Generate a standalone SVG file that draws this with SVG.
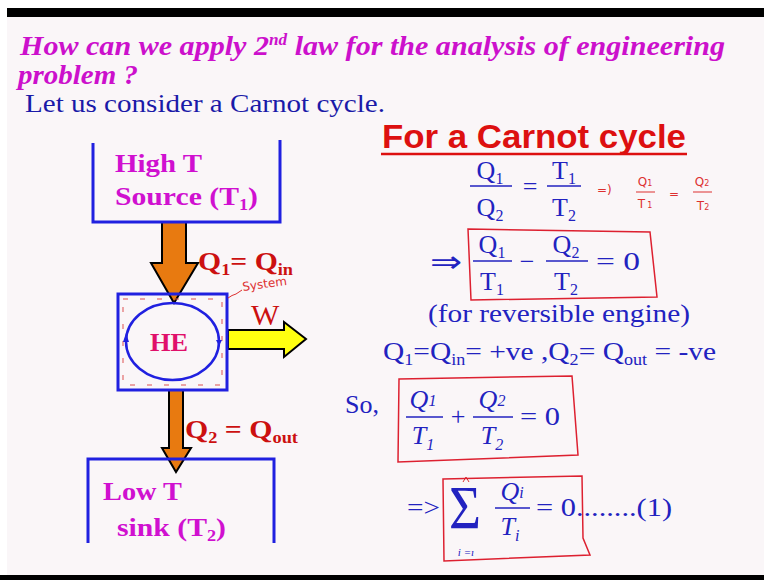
<svg xmlns="http://www.w3.org/2000/svg" width="764" height="580" viewBox="0 0 764 580">
<defs>
<style>
.title{font-family:"Liberation Serif",serif;font-weight:bold;font-style:italic;font-size:28px;fill:#cc10cc}
.intro{font-family:"Liberation Serif",serif;font-size:26px;fill:#1a1aa8}
.head{font-family:"Liberation Sans",Arial,sans-serif;font-weight:bold;font-size:33px;fill:#dd1010}
.node{font-family:"Liberation Serif",serif;font-weight:bold;font-size:26px;fill:#d010d0}
.lbl{font-family:"Liberation Serif",serif;font-weight:bold;font-size:26px;fill:#cc1010}
.he{font-family:"Liberation Serif",serif;font-weight:bold;font-size:26px;fill:#e0106a}
.w{font-family:"Liberation Serif",serif;font-size:30px;fill:#cc1010}
.eq{font-family:"Liberation Serif",serif;font-size:26px;fill:#2222c0}
.eqi{font-family:"Liberation Serif",serif;font-style:italic;font-size:26px;fill:#2222c0}
.sm{font-size:16px}
.hand{font-family:"DejaVu Sans",sans-serif;font-size:12px;fill:#dd3030}
.box{fill:none;stroke:#2020e0;stroke-width:3}
.fl{stroke:#2222c0;stroke-width:1.6}
.rb{fill:none;stroke:#dd2030;stroke-width:1.5}
.hl{stroke:#dd3030;stroke-width:1}
</style>
</defs>
<rect x="0" y="0" width="764" height="580" fill="#ffffff"/>
<rect x="7" y="8" width="757" height="567" fill="#faf6f8"/>
<rect x="7" y="8" width="757" height="9" fill="#000000"/>
<rect x="0" y="575" width="764" height="5" fill="#000000"/>

<text class="title" x="20" y="55" textLength="705" lengthAdjust="spacingAndGlyphs">How can we apply 2<tspan style="font-size:16px" dy="-10">nd</tspan><tspan dy="10">  law for the analysis of engineering</tspan></text>
<text class="title" x="18" y="84" textLength="120" lengthAdjust="spacingAndGlyphs">problem ?</text>
<text class="intro" x="25" y="112" textLength="360" lengthAdjust="spacingAndGlyphs">Let us consider a Carnot cycle.</text>

<text class="head" x="382" y="148" textLength="304" lengthAdjust="spacingAndGlyphs">For a Carnot cycle</text>
<line x1="381" y1="154" x2="687" y2="154" stroke="#dd1010" stroke-width="2.5"/>

<g id="connectors">
  <polygon id="q1-arrow" points="162,222 186,222 186,263 198,263 174,303 151,263 162,263" fill="#e87a10" stroke="#000" stroke-width="2"/>
  <polygon id="q2-arrow" points="169,390 183,390 183,448 191,448 176,472 162,448 169,448" fill="#e87a10" stroke="#000" stroke-width="2"/>
  <polygon id="w-arrow" points="228,330 284,330 284,322 306,339 284,357 284,349 228,349" fill="#ffff10" stroke="#000" stroke-width="2"/>
</g>

<g id="source">
  <polyline class="box" points="93,143 93,222 280,222 280,140"/>
  <text class="node" x="115" y="172" textLength="87" lengthAdjust="spacingAndGlyphs">High T</text>
  <text class="node" x="115" y="205" textLength="143" lengthAdjust="spacingAndGlyphs">Source (T<tspan class="sm" dy="5">1</tspan><tspan dy="-5">)</tspan></text>
</g>

<g id="engine">
  <rect class="box" x="118" y="294" width="109" height="96"/>
  <rect x="123" y="299" width="99" height="86" fill="none" stroke="#dd5050" stroke-width="1" stroke-dasharray="5,12"/>
  <ellipse cx="172.5" cy="341.5" rx="46.5" ry="38.5" fill="none" stroke="#2020e0" stroke-width="2.5"/>
  <polygon points="126,343 123,334 129,334" fill="#2020e0" transform="rotate(180 126 338)"/>
  <polygon points="219,340 216,346 222,346" fill="#2020e0" transform="rotate(180 219 343)"/>
  <text class="he" x="169" y="351" text-anchor="middle" textLength="38" lengthAdjust="spacingAndGlyphs">HE</text>
</g>

<g id="sink">
  <polyline class="box" points="88,543 88,459 274,459 274,543"/>
  <text class="node" x="103" y="500" textLength="79" lengthAdjust="spacingAndGlyphs">Low T</text>
  <text class="node" x="117" y="536" textLength="109" lengthAdjust="spacingAndGlyphs">sink (T<tspan class="sm" dy="5">2</tspan><tspan dy="-5">)</tspan></text>
</g>

<text class="lbl" x="198" y="270" textLength="95" lengthAdjust="spacingAndGlyphs">Q<tspan class="sm" dy="5">1</tspan><tspan dy="-5">= Q</tspan><tspan class="sm" dy="5">in</tspan></text>
<text class="lbl" x="185" y="438" textLength="113" lengthAdjust="spacingAndGlyphs">Q<tspan class="sm" dy="5">2</tspan><tspan dy="-5"> = Q</tspan><tspan class="sm" dy="5">out</tspan></text>
<text class="w" x="251" y="325">W</text>
<path d="M228,298 q4,-3 8,-4 q3,-2 6,-4" class="hl" fill="none"/>
<text class="hand" x="243" y="291" transform="rotate(-8 243 291)">System</text>

<!-- equation 1 -->
<text class="eq" x="490" y="179" text-anchor="middle">Q<tspan class="sm" dy="5">1</tspan></text>
<line class="fl" x1="470" y1="186" x2="512" y2="186"/>
<text class="eq" x="490" y="216" text-anchor="middle">Q<tspan class="sm" dy="5">2</tspan></text>
<text class="eq" x="530" y="195" text-anchor="middle">=</text>
<text class="eq" x="564" y="179" text-anchor="middle">T<tspan class="sm" dy="5">1</tspan></text>
<line class="fl" x1="547" y1="186" x2="581" y2="186"/>
<text class="eq" x="564" y="216" text-anchor="middle">T<tspan class="sm" dy="5">2</tspan></text>

<text class="hand" x="597" y="194">=)</text>
<text class="hand" x="645" y="186" text-anchor="middle">Q<tspan style="font-size:8px">1</tspan></text>
<line class="hl" x1="636" y1="192" x2="655" y2="192"/>
<text class="hand" x="645" y="208" text-anchor="middle">T<tspan style="font-size:8px" dx="2">1</tspan></text>
<text class="hand" x="669" y="198">=</text>
<text class="hand" x="702" y="186" text-anchor="middle">Q<tspan style="font-size:8px">2</tspan></text>
<line class="hl" x1="693" y1="192" x2="712" y2="192"/>
<text class="hand" x="703" y="210" text-anchor="middle">T<tspan style="font-size:8px">2</tspan></text>

<!-- equation 2 -->
<text class="eq" x="430" y="272" style="font-size:30px" textLength="32" lengthAdjust="spacingAndGlyphs">⇒</text>
<text class="eq" x="492" y="253" text-anchor="middle">Q<tspan class="sm" dy="5">1</tspan></text>
<line class="fl" x1="473" y1="261" x2="512" y2="261"/>
<text class="eq" x="492" y="290" text-anchor="middle">T<tspan class="sm" dy="5">1</tspan></text>
<text class="eq" x="527" y="270" text-anchor="middle">−</text>
<text class="eq" x="566" y="253" text-anchor="middle">Q<tspan class="sm" dy="5">2</tspan></text>
<line class="fl" x1="546" y1="261" x2="588" y2="261"/>
<text class="eq" x="566" y="290" text-anchor="middle">T<tspan class="sm" dy="5">2</tspan></text>
<text class="eq" x="596" y="270" textLength="44" lengthAdjust="spacingAndGlyphs">= 0</text>
<polygon class="rb" points="468,229 650,232 657,297 471,300"/>

<text class="eq" x="428" y="322" textLength="262" lengthAdjust="spacingAndGlyphs">(for reversible engine)</text>
<text class="eq" x="383" y="360" textLength="333" lengthAdjust="spacingAndGlyphs">Q<tspan class="sm" dy="5">1</tspan><tspan dy="-5">=Q</tspan><tspan class="sm" dy="5">in</tspan><tspan dy="-5">= +ve ,Q</tspan><tspan class="sm" dy="5">2</tspan><tspan dy="-5">= Q</tspan><tspan class="sm" dy="5">out</tspan><tspan dy="-5"> = -ve</tspan></text>

<!-- equation 3 -->
<text class="eq" x="345" y="413">So,</text>
<text class="eqi" x="423" y="408" text-anchor="middle">Q<tspan class="sm" dy="-2">1</tspan></text>
<line class="fl" x1="406" y1="417" x2="443" y2="417"/>
<text class="eqi" x="423" y="444" text-anchor="middle">T<tspan class="sm" dy="6">1</tspan></text>
<text class="eq" x="458" y="425" text-anchor="middle">+</text>
<text class="eqi" x="492" y="408" text-anchor="middle">Q<tspan class="sm" dy="-2">2</tspan></text>
<line class="fl" x1="473" y1="417" x2="513" y2="417"/>
<text class="eqi" x="492" y="444" text-anchor="middle">T<tspan class="sm" dy="6">2</tspan></text>
<text class="eq" x="520" y="425" textLength="40" lengthAdjust="spacingAndGlyphs">= 0</text>
<polygon class="rb" points="399,379 572,376 578,455 398,462"/>

<!-- equation 4 -->
<text class="eq" x="407" y="516" textLength="33" lengthAdjust="spacingAndGlyphs">=&gt;</text>
<text class="eq" x="449" y="528" style="font-size:62px" textLength="32" lengthAdjust="spacingAndGlyphs">Σ</text>
<text class="eqi" x="466" y="556" style="font-size:11px" text-anchor="middle">i =ı</text>
<polyline points="463,482 466,477 469,482" fill="none" stroke="#dd3030" stroke-width="1"/>
<text class="eqi" x="512" y="500" text-anchor="middle">Q<tspan class="sm" dy="-2">i</tspan></text>
<line class="fl" x1="495" y1="508" x2="530" y2="508"/>
<text class="eqi" x="510" y="535" text-anchor="middle">T<tspan class="sm" dy="6">i</tspan></text>
<text class="eq" x="536" y="516" textLength="136" lengthAdjust="spacingAndGlyphs">= 0........(1)</text>
<polygon class="rb" points="443,479 582,476 583,538 590,555 444,561"/>
</svg>
